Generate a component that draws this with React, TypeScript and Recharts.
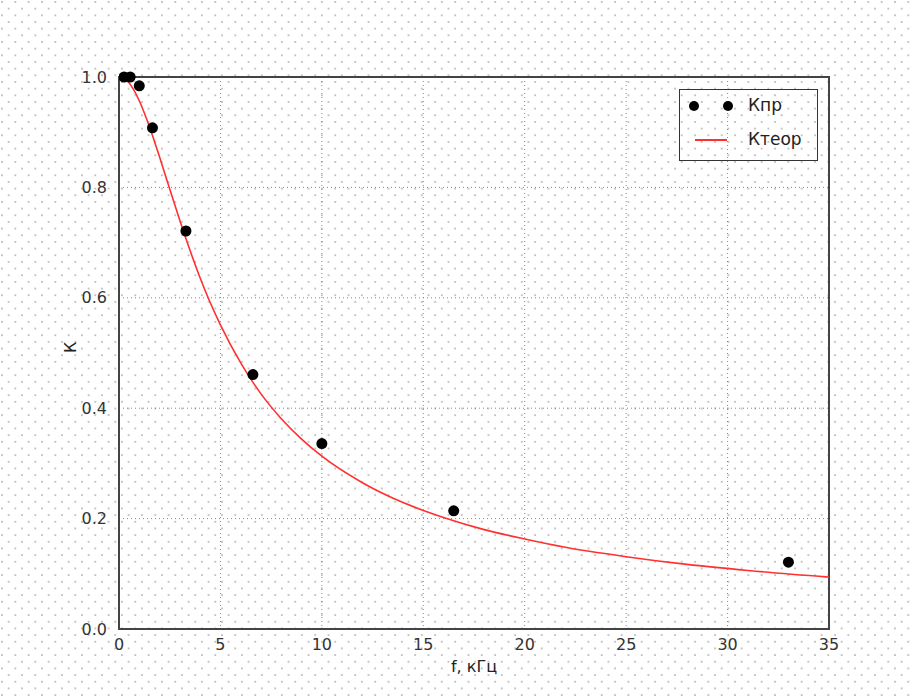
import {
  ComposedChart,
  Line,
  Scatter,
  XAxis,
  YAxis,
  CartesianGrid,
  ReferenceArea,
} from 'recharts';

// measured points, Кпр
const fMeasured = [0.25, 0.55, 1.0, 1.65, 3.3, 6.6, 10, 16.5, 33];
const kMeasured = [1.0, 1.0, 0.984, 0.908, 0.721, 0.461, 0.336, 0.214, 0.121];

// theoretical curve, Ктеор
const fTheory = [0, 0.25, 0.5, 1, 1.5, 2, 2.5, 3, 3.5, 4, 4.5, 5, 6, 7, 8, 9, 10, 12, 14, 16, 18, 20, 22, 25, 28, 31, 35];
const kTheory = [1.0, 0.997, 0.989, 0.957, 0.91, 0.855, 0.797, 0.74, 0.686, 0.636, 0.591, 0.551, 0.482, 0.426, 0.381, 0.344, 0.313, 0.265, 0.229, 0.202, 0.18, 0.163, 0.148, 0.131, 0.117, 0.106, 0.094];

const xTicks = [0, 5, 10, 15, 20, 25, 30, 35];
const yTicks = [0, 0.2, 0.4, 0.6, 0.8, 1.0];

const measured = fMeasured.map((f, i) => ({ f, k: kMeasured[i] }));
const theory = fTheory.map((f, i) => ({ f, k: kTheory[i] }));

const font = '"DejaVu Sans", Verdana, sans-serif';

function Dot(props: any) {
  const { cx, cy } = props;
  return <circle cx={cx} cy={cy} r={5.5} fill="#000" />;
}

function LegendBox() {
  return (
    <div
      style={{
        position: 'absolute',
        left: 679,
        top: 89,
        width: 139,
        height: 72,
        border: '1.5px solid #333',
        boxSizing: 'border-box',
        fontFamily: font,
        fontSize: 17,
        color: '#222',
      }}
    >
      <svg width={60} height={70} style={{ position: 'absolute', left: 0, top: 0 }}>
        <circle cx={14} cy={16} r={5} fill="#000" />
        <circle cx={48} cy={16} r={5} fill="#000" />
        <line x1={15} y1={50} x2={47} y2={50} stroke="#ff3030" strokeWidth={2} />
      </svg>
      <div style={{ position: 'absolute', left: 68, top: 5 }}>Кпр</div>
      <div style={{ position: 'absolute', left: 68, top: 39 }}>Ктеор</div>
    </div>
  );
}

export default function App() {
  return (
    <div
      style={{
        position: 'absolute',
        left: 0,
        top: 0,
        width: 911,
        height: 696,
        backgroundColor: '#fff',
        backgroundImage:
          'radial-gradient(circle, #c4c4c4 0.9px, transparent 1.3px), radial-gradient(circle, #c4c4c4 0.9px, transparent 1.3px)',
        backgroundSize: '13.33px 13.33px, 13.33px 13.33px',
        backgroundPosition: '2px 2px, 8.67px 8.67px',
      }}
    >
      <ComposedChart
        width={911}
        height={696}
        margin={{ top: 77, right: 82, left: 0, bottom: 0 }}
        style={{ fontFamily: font }}
      >
        <CartesianGrid stroke="#888" strokeDasharray="1 3" />
        <XAxis
          dataKey="f"
          type="number"
          domain={[0, 35]}
          ticks={xTicks}
          allowDataOverflow
          height={67}
          axisLine={{ stroke: '#444', strokeWidth: 2 }}
          tickLine={false}
          tick={{ fill: '#333', fontSize: 16 }}
          tickMargin={4}
          label={{ value: 'f, кГц', position: 'insideBottom', offset: 24, fill: '#222', fontSize: 16 }}
        />
        <YAxis
          dataKey="k"
          type="number"
          domain={[0, 1]}
          ticks={yTicks}
          tickFormatter={(v: number) => v.toFixed(1)}
          width={119}
          axisLine={{ stroke: '#444', strokeWidth: 2 }}
          tickLine={false}
          tick={{ fill: '#333', fontSize: 16 }}
          tickMargin={6}
          label={{ value: 'К', angle: -90, position: 'insideLeft', offset: 70, fill: '#222', fontSize: 16 }}
        />
        <ReferenceArea x1={0} x2={35} y1={0} y2={1} fill="none" stroke="#444" strokeWidth={2} ifOverflow="visible" />
        <Line
          data={theory}
          dataKey="k"
          type="monotone"
          stroke="#ff3030"
          strokeWidth={1.6}
          dot={false}
          isAnimationActive={false}
        />
        <Scatter data={measured} dataKey="k" shape={<Dot />} isAnimationActive={false} />
      </ComposedChart>
      <LegendBox />
    </div>
  );
}
